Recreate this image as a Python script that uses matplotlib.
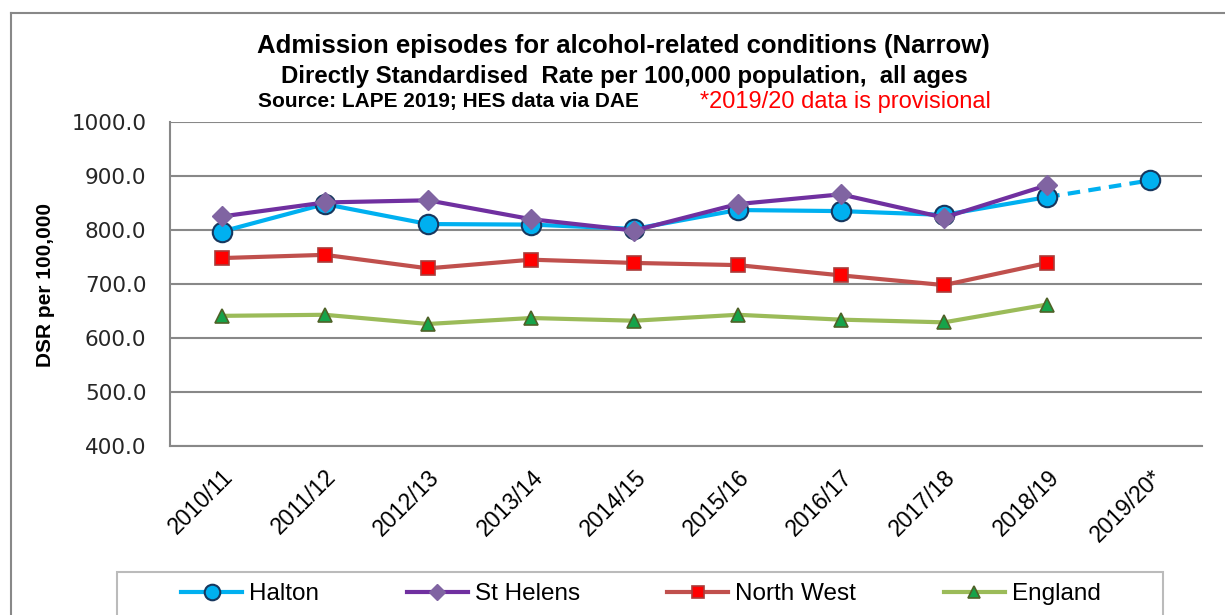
import matplotlib
matplotlib.use("Agg")
import matplotlib.pyplot as plt
from matplotlib.lines import Line2D
from matplotlib.patches import Rectangle

plt.rcParams['font.family'] = ['Liberation Sans', 'DejaVu Sans']

# data
years = ['2010/11', '2011/12', '2012/13', '2013/14', '2014/15',
         '2015/16', '2016/17', '2017/18', '2018/19', '2019/20*']
halton = [797, 848, 811, 810, 802, 837, 835, 828, 861, 892]
st_helens = [825, 851, 855, 820, 799, 848, 866, 823, 883]
north_west = [748, 754, 729, 745, 739, 735, 716, 698, 739]
england = [641, 643, 626, 637, 632, 643, 634, 629, 662]
y_ticks = [400, 500, 600, 700, 800, 900, 1000]

W, H = 1225, 615
fig = plt.figure(figsize=(W / 100, H / 100), dpi=100)
ax = fig.add_axes([170 / W, 1 - 446 / H, (1202 - 170) / W, (446 - 122) / H])

x = list(range(len(years)))

# Halton: solid to 2018/19, dashed to provisional 2019/20
ax.plot(x[:9], halton[:9], color='#00B0F0', lw=3, marker='o', ms=14,
        mfc='#00B0F0', mec='#17375E', mew=1.5, label='Halton', zorder=3)
ax.plot(x[8:], halton[8:], color='#00B0F0', lw=3, ls=(0, (3, 2)), zorder=2)
ax.plot(x[9:], halton[9:], ls='none', marker='o', ms=14,
        mfc='#00B0F0', mec='#17375E', mew=1.5, zorder=3)
ax.plot(x[:9], st_helens, color='#7030A0', lw=3, marker='D', ms=10,
        mfc='#8064A2', mec='#8064A2', label='St Helens', zorder=4)
ax.plot(x[:9], north_west, color='#C0504D', lw=3, marker='s', ms=10,
        mfc='#FF0000', mec='#A93C3A', mew=1.2, label='North West', zorder=3)
ax.plot(x[:9], england, color='#9BBB59', lw=3, marker='^', ms=10,
        mfc='#16A34A', mec='#4F6228', mew=1.2, label='England', zorder=3)

ax.set_xlim(-0.5, len(years) - 0.5)
ax.set_ylim(400, 1000)
ax.set_yticks(y_ticks)
ax.set_yticklabels(['%.1f' % v for v in y_ticks], family='DejaVu Sans', fontsize=15.5,
                   color='#262626')
ax.set_xticks(x)
ax.set_xticklabels(years, rotation=45, ha='right', rotation_mode='anchor', fontsize=16.5)
ax.tick_params(axis='x', length=0, pad=14)
ax.tick_params(axis='y', length=0, pad=17)
ax.grid(axis='y', color='#888888', lw=1.5)
ax.set_axisbelow(True)
for s in ['top', 'right']:
    ax.spines[s].set_visible(False)
for s in ['left', 'bottom']:
    ax.spines[s].set_color('#888888')
    ax.spines[s].set_linewidth(1.5)
ax.set_ylabel('DSR per 100,000', fontsize=15, fontweight='bold')
ax.yaxis.set_label_coords(55 / W, 1 - 285 / H, transform=fig.transFigure)

# titles
fig.text(623 / W, 1 - 46 / H, 'Admission episodes for alcohol-related conditions (Narrow)',
         ha='center', va='center', fontsize=18.5, fontweight='bold')
fig.text(624 / W, 1 - 76 / H, 'Directly Standardised  Rate per 100,000 population,  all ages',
         ha='center', va='center', fontsize=17.3, fontweight='bold')
fig.text(258 / W, 1 - 102 / H, 'Source: LAPE 2019; HES data via DAE',
         ha='left', va='center', fontsize=15, fontweight='bold')
fig.text(700 / W, 1 - 102 / H, '*2019/20 data is provisional',
         ha='left', va='center', fontsize=17, color='#FF0000')

# outer chart frame
fig.add_artist(Line2D([11 / W, 11 / W], [0, 1 - 13 / H], color='#888888', lw=1.5))
fig.add_artist(Line2D([11 / W, 1], [1 - 13 / H, 1 - 13 / H], color='#888888', lw=1.5))

# legend
fig.add_artist(Rectangle((117 / W, -0.05), (1163 - 117) / W, (615 - 572) / H + 0.05,
                         transform=fig.transFigure, fill=False, ec='#BBBBBB', lw=1.5))
handles, labels = ax.get_legend_handles_labels()
fig.legend(handles, labels, loc='center', bbox_to_anchor=(641 / W, 1 - 594 / H),
           ncol=4, frameon=False, fontsize=17.5, handlelength=2.5, handletextpad=0.3,
           columnspacing=3.6, markerscale=0.8)

fig.savefig('out.png', dpi=100)
